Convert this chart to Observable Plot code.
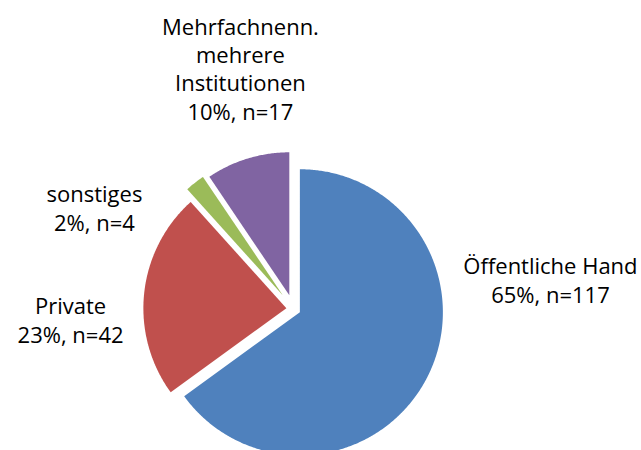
<!DOCTYPE html>
<html>
<head>
<meta charset="utf-8">
<script src="https://cdn.jsdelivr.net/npm/d3@7"></script>
<script src="https://cdn.jsdelivr.net/npm/@observablehq/plot@0.6"></script>
<style>
  html, body { margin: 0; padding: 0; background: #fff; }
  #chart svg { display: block; }
</style>
</head>
<body>
<div id="chart"></div>
<script>
// ---- data ----
const categories = ["Öffentliche Hand", "Private", "sonstiges", "Mehrfachnenn.\nmehrere\nInstitutionen"];
const counts = [117, 42, 4, 17];
const percentLabels = ["65%", "23%", "2%", "10%"];

// ---- style / layout (not data) ----
const colors = ["#4F81BD", "#C0504D", "#9BBB59", "#8064A2"];
const explode = [0.05, 0.05, 0.12, 0.10];          // explosion in units of radius
const labelAnchor = [[1.797, 0.206], [-1.559, -0.073], [-1.392, 0.710], [-0.371, 1.685]]; // unit-radius coords

const W = 641, H = 450, CX = 293, CY = 308.5, R = 143;

const table = categories.map((c, i) => ({cat: c, n: counts[i], pct: percentLabels[i]}));
const arcs = d3.pie().sort(null).value(d => d.n).startAngle(0).endAngle(2 * Math.PI)(table);

// build slice outlines in unit-radius coordinates (y up)
const pts = [];
arcs.forEach((a, i) => {
  const mid = (a.startAngle + a.endAngle) / 2;
  const ox = explode[i] * Math.sin(mid), oy = explode[i] * Math.cos(mid);
  pts.push({cat: a.data.cat, x: ox, y: oy});
  const steps = Math.max(4, Math.ceil((a.endAngle - a.startAngle) / (Math.PI / 360)));
  for (let k = 0; k <= steps; k++) {
    const t = a.startAngle + (a.endAngle - a.startAngle) * k / steps;
    pts.push({cat: a.data.cat, x: ox + Math.sin(t), y: oy + Math.cos(t)});
  }
});

const labels = table.map((d, i) => ({
  text: `${d.cat}\n${d.pct}, n=${d.n}`,
  x: labelAnchor[i][0],
  y: labelAnchor[i][1]
}));

const chart = Plot.plot({
  width: W,
  height: H,
  margin: 0,
  x: {domain: [-CX / R, (W - CX) / R], axis: null},
  y: {domain: [(CY - H) / R, CY / R], axis: null},
  color: {domain: categories, range: colors},
  style: {fontFamily: "'Open Sans', sans-serif", background: "#fff"},
  marks: [
    Plot.line(pts, {x: "x", y: "y", z: "cat", fill: "cat", stroke: "none", curve: "linear-closed"}),
    Plot.text(labels, {x: "x", y: "y", text: "text", fontSize: 22, lineHeight: 1.29, fill: "#000", textAnchor: "middle"})
  ]
});
document.getElementById("chart").appendChild(chart);
</script>
</body>
</html>
